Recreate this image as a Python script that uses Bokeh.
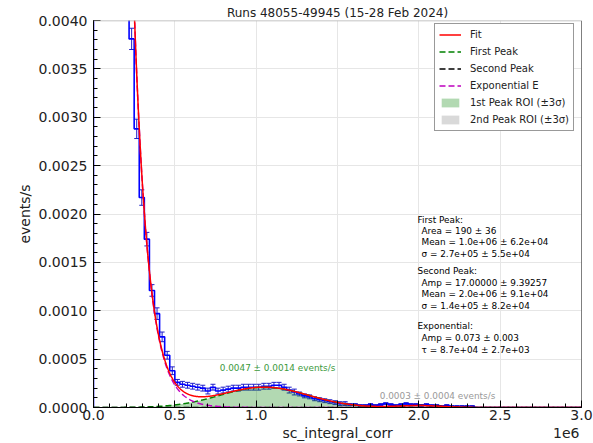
import numpy as np
from bokeh.plotting import figure
from bokeh.models import (ColumnDataSource, FixedTicker, Label, Legend, LegendItem,
                          Range1d, Span, Whisker, TeeHead)
from bokeh.embed import file_html
from bokeh.resources import INLINE

# ---------------- data ----------------
bin_width = 31250.0
hist_rate = [0.060, 0.048, 0.035, 0.025, 0.0135, 0.0092, 0.0058, 0.00381,
             0.00288, 0.00217, 0.00174, 0.00121, 0.00097, 0.00073, 0.00054, 0.00038,
             0.00026, 0.00024, 0.00023, 0.00022, 0.00021, 0.00020, 0.00017, 0.00021,
             0.00017, 0.00018, 0.00019, 0.00020, 0.00020, 0.00021, 0.00021, 0.00021,
             0.00021, 0.00022, 0.00022, 0.00023, 0.00023, 0.00021, 0.00018, 0.00016,
             0.00014, 0.00012, 0.00011, 0.00009, 0.00008, 0.00007, 0.00006, 0.00005,
             0.00004, 0.00004, 0.00003, 0.00003, 0.00002, 0.00002, 0.00003, 0.00002,
             0.00003, 0.00004, 0.00003, 0.00002, 0.00003, 0.00004, 0.00003, 0.00003,
             0.00002, 0.00003, 0.00002, 0.00002, 0.00001, 0.00002, 0.00001, 0.00001,
             0.00001, 0.00001, 0.00001, 0, 0, 0, 0, 0,
             0, 0, 0, 0, 0, 0, 0, 0,
             0, 0, 0, 0, 0, 0, 0, 0]
hist_err = [0.0004, 0.0004, 0.0003, 0.0003, 0.00025, 0.0002, 0.00017, 0.00011,
            0.00010, 0.00008, 0.00007, 0.00006, 0.00006, 0.00005, 0.00004, 0.00004,
            0.00003, 0.00003, 0.00003, 0.00003, 0.00003, 0.00003, 0.00003, 0.00003,
            0.00003, 0.00003, 0.00003, 0.00003, 0.00003, 0.00003, 0.00003, 0.00003,
            0.00003, 0.00003, 0.00003, 0.00003, 0.00003, 0.00003, 0.00003, 0.00003,
            0.00002, 0.00002, 0.00002, 0.00002, 0.00002, 0.00002, 0.00002, 0.00002,
            0.00002, 0.00002, 0.00001, 0.00001, 0.00001, 0.00001, 0.00001, 0.00001,
            0.00001, 0.00001, 0.00001, 0.00001, 0.00001, 0.00001, 0.00001, 0.00001,
            0.00001, 0.00001, 0.00001, 0.00001, 0.00001, 0.00001, 0.00001, 0.00001,
            0.00001, 0.00001, 0.00001, 0, 0, 0, 0, 0,
            0, 0, 0, 0, 0, 0, 0, 0,
            0, 0, 0, 0, 0, 0, 0, 0]

# fit parameters (exponential from annotation, peak heights)
exp_amp = 0.073
exp_tau = 8.7e4
peak1_height = 0.00021
peak1_mean = 1.05e6
peak1_sigma = 2.7e5
peak2_height = 0.00002
peak2_mean = 2.0e6
peak2_sigma = 1.4e5

x_ticks = [0, 500000, 1000000, 1500000, 2000000, 2500000, 3000000]
x_tick_labels = ["0.0", "0.5", "1.0", "1.5", "2.0", "2.5", "3.0"]
y_ticks = [0.0, 0.0005, 0.0010, 0.0015, 0.0020, 0.0025, 0.0030, 0.0035, 0.0040]
y_tick_labels = ["0.0000", "0.0005", "0.0010", "0.0015", "0.0020",
                 "0.0025", "0.0030", "0.0035", "0.0040"]

title_text = "Runs 48055-49945 (15-28 Feb 2024)"
x_label_text = "sc_integral_corr"
x_offset_text = "1e6"
peak1_text = "0.0047 \u00b1 0.0014 events/s"
peak2_text = "0.0003 \u00b1 0.0004 events/s"
info_lines = ["First Peak:", "Area = 190 \u00b1 36", "Mean = 1.0e+06 \u00b1 6.2e+04",
              "\u03c3 = 2.7e+05 \u00b1 5.5e+04",
              "Second Peak:", "Amp = 17.00000 \u00b1 9.39257", "Mean = 2.0e+06 \u00b1 9.1e+04",
              "\u03c3 = 1.4e+05 \u00b1 8.2e+04",
              "Exponential:", "Amp = 0.073 \u00b1 0.003", "\u03c4 = 8.7e+04 \u00b1 2.7e+03"]
info_indent = [0, 1, 1, 1, 0, 1, 1, 1, 0, 1, 1]
info_py = [219, 230, 241, 253, 270, 282, 293, 305, 325, 337, 349]

FONT = "DejaVu Sans"

# ---------------- derived geometry ----------------
n = len(hist_rate)
edges = np.arange(n + 1) * bin_width
centers = edges[:-1] + bin_width / 2
rate = np.array(hist_rate)
err = np.array(hist_err)

step_x = [0.0]
step_y = [0.0]
for i in range(n):
    step_x += [edges[i], edges[i + 1]]
    step_y += [rate[i], rate[i]]

xs = np.linspace(0, 3.0e6, 1500)
exp_curve = exp_amp * np.exp(-xs / exp_tau)
g1 = peak1_height * np.exp(-0.5 * ((xs - peak1_mean) / peak1_sigma) ** 2)
g2 = peak2_height * np.exp(-0.5 * ((xs - peak2_mean) / peak2_sigma) ** 2)
fit = exp_curve + g1 + g2

roi1 = (xs >= peak1_mean - 3 * peak1_sigma) & (xs <= peak1_mean + 3 * peak1_sigma)
roi2 = (xs >= peak2_mean - 3 * peak2_sigma) & (xs <= peak2_mean + 3 * peak2_sigma)

# ---------------- figure ----------------
p = figure(width=593, height=443, output_backend="svg", toolbar_location=None,
           x_range=Range1d(0, 3.0e6), y_range=Range1d(0, 0.004),
           min_border_left=93, min_border_right=12, min_border_top=20,
           min_border_bottom=36)
p.outline_line_color = None
p.background_fill_color = "white"
p.border_fill_color = "white"

p.title.text = title_text
p.title.align = "center"
p.title.text_font = FONT
p.title.text_font_size = "12px"
p.title.text_font_style = "normal"
p.title.text_color = "#222222"
p.title.standoff = 1
p.title.offset = 0

Y_PER_PX = 0.004 / 387.0
X_PER_PX = 3.0e6 / 488.0

def ypx(py):
    return (407 - py) * Y_PER_PX

def xpx(px):
    return (px - 93) * X_PER_PX

# fills
r_roi1 = p.varea(x=xs[roi1], y1=0, y2=g1[roi1], fill_color="green", fill_alpha=0.3)
r_roi2 = p.varea(x=xs[roi2], y1=0, y2=g2[roi2], fill_color="gray", fill_alpha=0.3)

# histogram
p.line(step_x, step_y, line_color="blue", line_width=1.6)
src = ColumnDataSource(dict(x=centers, lo=rate - err, hi=rate + err))
p.add_layout(Whisker(source=src, base="x", lower="lo", upper="hi", line_color="#2020c8",
                     line_width=1,
                     lower_head=TeeHead(size=5, line_color="#2020c8", line_width=1),
                     upper_head=TeeHead(size=5, line_color="#2020c8", line_width=1)))

# curves
r_g1 = p.line(xs, g1, line_color="green", line_width=1.5, line_dash="6 3")
r_g2 = p.line(xs, g2, line_color="black", line_width=1.5, line_dash="6 3")
r_exp = p.line(xs, exp_curve, line_color="#bf00bf", line_width=1.5, line_dash="6 3")
r_fit = p.line(xs, fit, line_color="red", line_width=1.5)

# frame lines (top gray, right black)
p.add_layout(Span(location=0.004, dimension="width", line_color="#b0b0b0", line_width=1.5))
p.add_layout(Span(location=3.0e6, dimension="height", line_color="black", line_width=1))

# axes
p.xaxis.ticker = FixedTicker(ticks=x_ticks, minor_ticks=list(np.arange(0, 3.0e6 + 1, 1e5)))
p.xaxis.major_label_overrides = dict(zip(x_ticks, x_tick_labels))
p.yaxis.ticker = FixedTicker(ticks=y_ticks, minor_ticks=list(np.arange(0, 0.00401, 0.0001)))
p.yaxis.major_label_overrides = dict(zip(y_ticks, y_tick_labels))
for ax in (p.xaxis, p.yaxis):
    ax.major_tick_in = 7
    ax.major_tick_out = 0
    ax.minor_tick_in = 4
    ax.minor_tick_out = 0
    ax.major_tick_line_color = "black"
    ax.minor_tick_line_color = "black"
    ax.axis_line_color = "black"
    ax.major_label_text_font = FONT
    ax.major_label_text_font_size = "14px"
    ax.major_label_text_color = "#222222"
    ax.axis_label_text_font = FONT
    ax.axis_label_text_font_size = "14px"
    ax.axis_label_text_font_style = "normal"
    ax.axis_label_text_color = "#222222"
# x label kept centred; the "1e6" offset text sits at the right end of the same line,
# separated by non-breaking spaces (balanced on the left so the label stays centred)
NBSP = "\u00a0"
p.xaxis.axis_label = NBSP * 42 + x_label_text + NBSP * 36 + x_offset_text
p.yaxis.axis_label = "events/s"
p.xaxis.major_label_standoff = 2
p.yaxis.major_label_standoff = 6
p.xaxis.axis_label_standoff = 2
p.yaxis.axis_label_standoff = 3

p.xgrid.ticker = FixedTicker(ticks=x_ticks)
p.ygrid.ticker = FixedTicker(ticks=y_ticks)
p.xgrid.grid_line_color = "#e6e6e6"
p.ygrid.grid_line_color = "#e6e6e6"

# texts
p.add_layout(Label(x=xpx(277), y=ypx(367), text=peak1_text, text_align="center",
                   text_baseline="middle", text_font=FONT, text_font_size="8.9px",
                   text_color="#3c9a3c"))
p.add_layout(Label(x=xpx(437), y=ypx(395), text=peak2_text, text_align="center",
                   text_baseline="middle", text_font=FONT, text_font_size="8.9px",
                   text_color="#999999"))
for t, ind, py in zip(info_lines, info_indent, info_py):
    p.add_layout(Label(x=xpx(417 + 4 * ind), y=ypx(py), text=t, text_align="left",
                       text_baseline="middle", text_font=FONT, text_font_size="8.9px",
                       text_color="black"))

legend = Legend(items=[
    LegendItem(label="Fit", renderers=[r_fit]),
    LegendItem(label="First Peak", renderers=[r_g1]),
    LegendItem(label="Second Peak", renderers=[r_g2]),
    LegendItem(label="Exponential E", renderers=[r_exp]),
    LegendItem(label="1st Peak ROI (\u00b13\u03c3)", renderers=[r_roi1]),
    LegendItem(label="2nd Peak ROI (\u00b13\u03c3)", renderers=[r_roi2]),
], location=(341, 276))
legend.label_text_font = FONT
legend.label_text_font_size = "10px"
legend.label_text_color = "#222222"
legend.label_height = 13
legend.glyph_height = 11
legend.glyph_width = 22
legend.label_standoff = 9
legend.spacing = 4
legend.padding = 4
legend.margin = 0
legend.border_line_color = "#333333"
legend.border_line_width = 1
legend.background_fill_alpha = 1.0
p.add_layout(legend)

open("out.html", "w").write(file_html(p, INLINE))
